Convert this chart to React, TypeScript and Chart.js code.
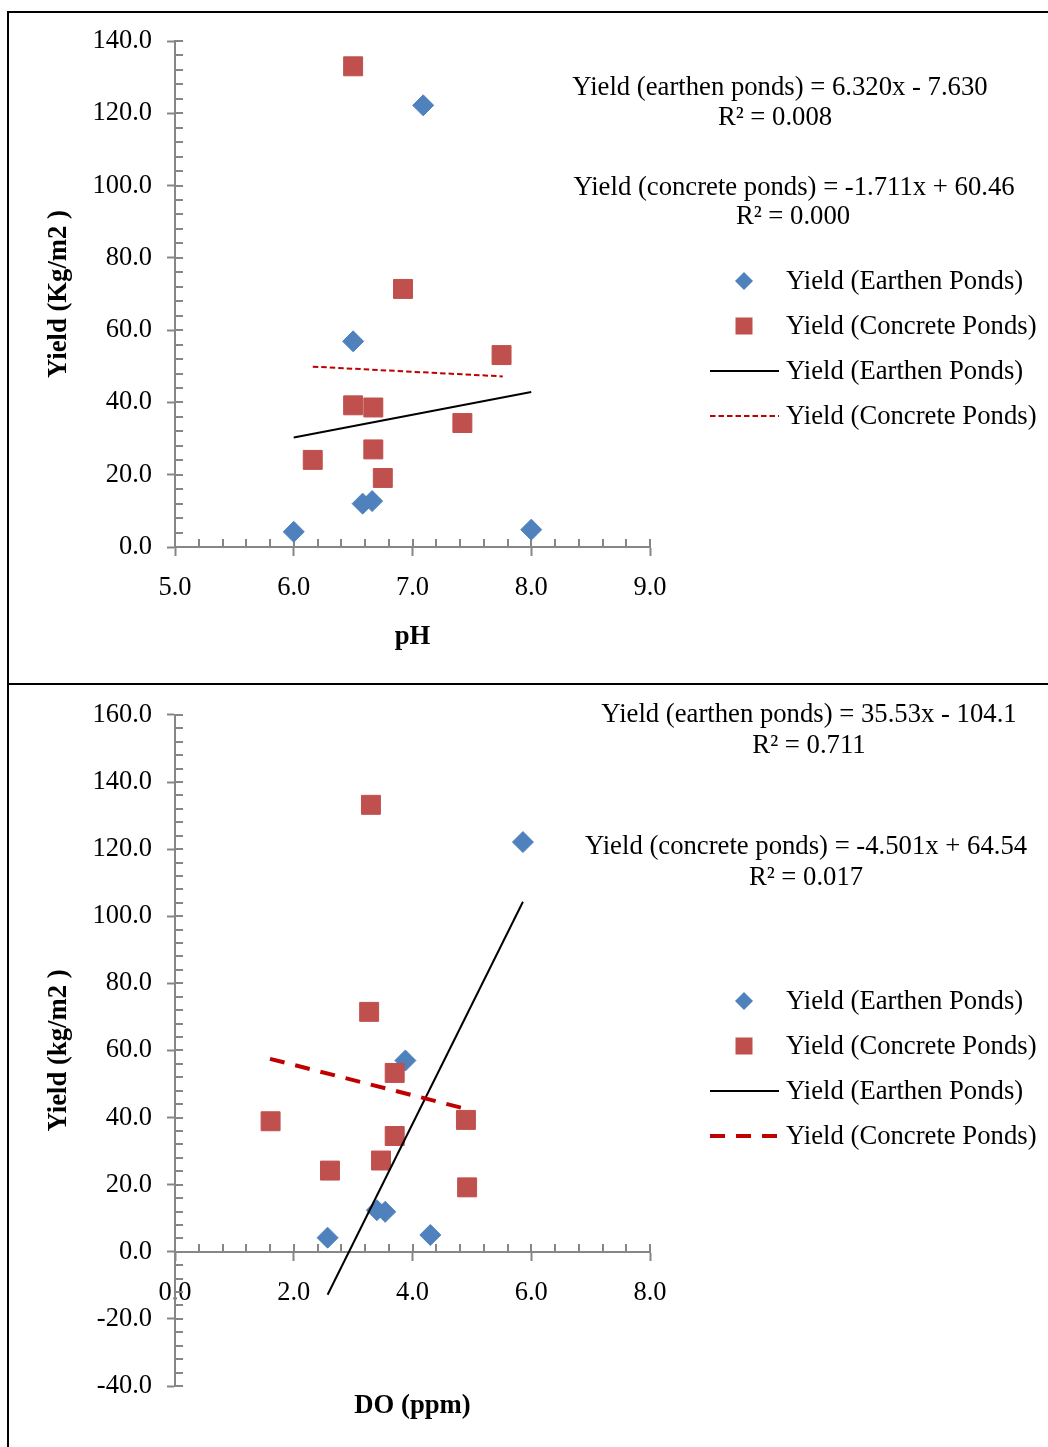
import React, { useEffect, useRef } from 'react';
import { Chart, registerables } from 'chart.js';

Chart.register(...registerables);

const FONT = '"Liberation Serif", "Times New Roman", Times, serif';
const BLUE = '#4F81BD';
const RED = '#C0504D';
const TREND_RED = '#C00000';
const AXIS_GRAY = '#868686';
const TEXT_SIZE = 26.7;
const TICK_SIZE = 26.5;

const seriesLabels = [
  'Yield (Earthen Ponds)',
  'Yield (Concrete Ponds)',
  'Yield (Earthen Ponds)',
  'Yield (Concrete Ponds)',
];

// ---------- Panel 1 : pH ----------
const phEarthenX = [6.0, 6.5, 7.09, 6.58, 6.66, 8.0];
const phEarthenY = [4.2, 56.9, 122.2, 12.0, 12.7, 4.8];
const phConcreteX = [6.5, 6.92, 7.75, 6.5, 6.67, 7.42, 6.67, 6.16, 6.75];
const phConcreteY = [133.0, 71.4, 53.1, 39.2, 38.6, 34.3, 27.0, 24.1, 19.1];
const phTrendEarthenX = [6.0, 8.0];
const phTrendEarthenY = [30.3, 42.9];
const phTrendConcreteX = [6.16, 7.76];
const phTrendConcreteY = [49.9, 47.2];
const phXRange = [5, 9];
const phXSteps = [1, 0.2];
const phYRange = [0, 140];
const phYSteps = [20, 4];
const phXTitle = 'pH';
const phYTitle = 'Yield (Kg/m2 )';
const phEquations = [
  'Yield (earthen ponds) = 6.320x - 7.630',
  'R² = 0.008',
  'Yield (concrete ponds) = -1.711x + 60.46',
  'R² = 0.000',
];

// ---------- Panel 2 : DO ----------
const doEarthenX = [2.57, 3.4, 3.54, 4.3, 3.88, 5.86];
const doEarthenY = [4.2, 12.4, 11.9, 5.0, 57.0, 122.1];
const doConcreteX = [3.3, 3.27, 3.7, 1.61, 4.9, 3.7, 3.47, 2.61, 4.92];
const doConcreteY = [133.2, 71.5, 53.3, 38.9, 39.3, 34.5, 27.2, 24.2, 19.2];
const doTrendEarthenX = [2.57, 5.86];
const doTrendEarthenY = [-12.8, 104.3];
const doTrendConcreteX = [1.6, 4.92];
const doTrendConcreteY = [57.5, 42.5];
const doXRange = [0, 8];
const doXSteps = [2, 0.4];
const doYRange = [-40, 160];
const doYSteps = [20, 4];
const doXTitle = 'DO (ppm)';
const doYTitle = 'Yield (kg/m2 )';
const doEquations = [
  'Yield (earthen ponds) = 35.53x - 104.1',
  'R² = 0.711',
  'Yield (concrete ponds) = -4.501x + 64.54',
  'R² = 0.017',
];

const zip = (xs: number[], ys: number[]) => xs.map((x, i) => ({ x, y: ys[i] }));
const isMajor = (v: number, major: number) => Math.abs(v / major - Math.round(v / major)) < 1e-6;

const innerTicksPlugin = {
  id: 'innerTicks',
  beforeDatasetsDraw(chart: any) {
    const { ctx, chartArea } = chart;
    const xs = chart.scales.x;
    const ys = chart.scales.y;
    const axisY = Math.round(ys.getPixelForValue(0));
    ctx.save();
    ctx.strokeStyle = AXIS_GRAY;
    ctx.lineWidth = 2;
    ctx.beginPath();
    for (const t of ys.ticks) {
      const p = Math.round(ys.getPixelForValue(t.value));
      ctx.moveTo(chartArea.left, p);
      ctx.lineTo(chartArea.left + 8, p);
    }
    for (const t of xs.ticks) {
      const p = Math.round(xs.getPixelForValue(t.value));
      ctx.moveTo(p, axisY);
      ctx.lineTo(p, axisY - 8);
    }
    ctx.stroke();
    ctx.restore();
  },
};

const annotatePlugin = {
  id: 'annotate',
  afterDraw(chart: any, _args: any, opts: any) {
    const { ctx, chartArea: ca } = chart;
    ctx.save();
    ctx.fillStyle = '#000';
    ctx.textBaseline = 'middle';
    ctx.textAlign = 'center';
    ctx.font = `${TEXT_SIZE}px ${FONT}`;
    opts.equations.forEach((e: any) => ctx.fillText(e.text, e.x, e.y));

    ctx.font = `bold ${TEXT_SIZE}px ${FONT}`;
    ctx.fillText(opts.xTitle, (ca.left + ca.right) / 2, opts.xTitleY);
    ctx.save();
    ctx.translate(opts.yTitleX, (ca.top + ca.bottom) / 2);
    ctx.rotate(-Math.PI / 2);
    ctx.fillText(opts.yTitle, 0, 0);
    ctx.restore();

    const L = opts.legend;
    chart.data.datasets.forEach((ds: any, i: number) => {
      const y = L.rows[i];
      const my = y - 1;
      if (ds.showLine) {
        ctx.save();
        ctx.strokeStyle = ds.borderColor;
        ctx.lineWidth = ds.borderWidth;
        ctx.setLineDash(ds.borderDash || []);
        ctx.beginPath();
        ctx.moveTo(L.lineX1, my);
        ctx.lineTo(L.lineX2, my);
        ctx.stroke();
        ctx.restore();
      } else if (ds.pointStyle === 'rectRot') {
        const r = L.diamondR;
        ctx.fillStyle = ds.backgroundColor;
        ctx.beginPath();
        ctx.moveTo(L.markerX, my - r);
        ctx.lineTo(L.markerX + r, my);
        ctx.lineTo(L.markerX, my + r);
        ctx.lineTo(L.markerX - r, my);
        ctx.closePath();
        ctx.fill();
      } else {
        const s = L.squareSide;
        ctx.fillStyle = ds.backgroundColor;
        ctx.fillRect(L.markerX - s / 2, my - s / 2, s, s);
      }
      ctx.fillStyle = '#000';
      ctx.font = `${TEXT_SIZE}px ${FONT}`;
      ctx.textAlign = 'left';
      ctx.fillText(ds.label, L.textX, y);
    });
    ctx.restore();
  },
};

function buildConfig(p: any): any {
  const tickFont = { family: FONT, size: TICK_SIZE };
  return {
    type: 'scatter',
    data: {
      datasets: [
        {
          label: seriesLabels[0],
          data: zip(p.earthenX, p.earthenY),
          pointStyle: 'rectRot',
          pointRadius: 10.5,
          backgroundColor: BLUE,
          borderColor: BLUE,
          borderWidth: 1,
          order: 4,
        },
        {
          label: seriesLabels[1],
          data: zip(p.concreteX, p.concreteY),
          pointStyle: 'rect',
          pointRadius: 13.4,
          backgroundColor: RED,
          borderColor: RED,
          borderWidth: 1,
          order: 3,
        },
        {
          label: seriesLabels[2],
          data: zip(p.trendEX, p.trendEY),
          showLine: true,
          pointRadius: 0,
          borderColor: '#000',
          backgroundColor: '#000',
          borderWidth: 2,
          fill: false,
          order: 2,
        },
        {
          label: seriesLabels[3],
          data: zip(p.trendCX, p.trendCY),
          showLine: true,
          pointRadius: 0,
          borderColor: TREND_RED,
          backgroundColor: TREND_RED,
          borderWidth: p.dashWidth,
          borderDash: p.dash,
          fill: false,
          order: 1,
        },
      ],
    },
    options: {
      responsive: false,
      animation: false,
      events: [],
      layout: { padding: p.padding },
      scales: {
        x: {
          type: 'linear',
          position: { y: 0 },
          min: p.xRange[0],
          max: p.xRange[1],
          afterFit: (s: any) => {
            s.height = 10;
          },
          border: { display: true, color: AXIS_GRAY, width: 2 },
          grid: {
            display: true,
            drawOnChartArea: false,
            drawTicks: true,
            tickLength: 8,
            tickWidth: 2,
            tickColor: (c: any) =>
              c.tick && isMajor(c.tick.value, p.xSteps[0]) ? AXIS_GRAY : 'rgba(0,0,0,0)',
          },
          ticks: {
            stepSize: p.xSteps[1],
            autoSkip: false,
            maxRotation: 0,
            minRotation: 0,
            padding: 17,
            color: '#000',
            font: tickFont,
            callback: (v: number) => (isMajor(v, p.xSteps[0]) ? Number(v).toFixed(1) : ''),
          },
        },
        y: {
          type: 'linear',
          position: 'left',
          min: p.yRange[0],
          max: p.yRange[1],
          afterFit: (s: any) => {
            s.width = 175;
          },
          border: { display: true, color: AXIS_GRAY, width: 2 },
          grid: {
            display: true,
            drawOnChartArea: false,
            drawTicks: true,
            tickLength: 8,
            tickWidth: 2,
            tickColor: (c: any) =>
              c.tick && isMajor(c.tick.value, p.ySteps[0]) ? AXIS_GRAY : 'rgba(0,0,0,0)',
          },
          ticks: {
            stepSize: p.ySteps[1],
            autoSkip: false,
            padding: 15,
            color: '#000',
            font: tickFont,
            callback: (v: number) => (isMajor(v, p.ySteps[0]) ? Number(v).toFixed(1) : ''),
          },
        },
      },
      plugins: {
        legend: { display: false },
        tooltip: { enabled: false },
        annotate: {
          equations: p.equations,
          xTitle: p.xTitle,
          yTitle: p.yTitle,
          xTitleY: p.xTitleY,
          yTitleX: 59,
          legend: p.legend,
        },
      },
    },
    plugins: [innerTicksPlugin, annotatePlugin],
  };
}

const panelPH = {
  earthenX: phEarthenX,
  earthenY: phEarthenY,
  concreteX: phConcreteX,
  concreteY: phConcreteY,
  trendEX: phTrendEarthenX,
  trendEY: phTrendEarthenY,
  trendCX: phTrendConcreteX,
  trendCY: phTrendConcreteY,
  xRange: phXRange,
  xSteps: phXSteps,
  yRange: phYRange,
  ySteps: phYSteps,
  xTitle: phXTitle,
  yTitle: phYTitle,
  dash: [5.5, 3],
  dashWidth: 2,
  padding: { left: 0, top: 41, right: 398, bottom: 137 },
  xTitleY: 637,
  equations: [
    { text: phEquations[0], x: 780, y: 88 },
    { text: phEquations[1], x: 775, y: 118 },
    { text: phEquations[2], x: 794, y: 188 },
    { text: phEquations[3], x: 793, y: 217 },
  ],
  legend: {
    rows: [282, 327, 372, 417],
    markerX: 744,
    lineX1: 710,
    lineX2: 779,
    textX: 786,
    diamondR: 9,
    squareSide: 17,
  },
};

const panelDO = {
  earthenX: doEarthenX,
  earthenY: doEarthenY,
  concreteX: doConcreteX,
  concreteY: doConcreteY,
  trendEX: doTrendEarthenX,
  trendEY: doTrendEarthenY,
  trendCX: doTrendConcreteX,
  trendCY: doTrendConcreteY,
  xRange: doXRange,
  xSteps: doXSteps,
  yRange: doYRange,
  ySteps: doYSteps,
  xTitle: doXTitle,
  yTitle: doYTitle,
  dash: [15, 11],
  dashWidth: 4,
  padding: { left: 0, top: 29, right: 398, bottom: 61 },
  xTitleY: 722,
  equations: [
    { text: doEquations[0], x: 809, y: 31 },
    { text: doEquations[1], x: 809, y: 62 },
    { text: doEquations[2], x: 806, y: 163 },
    { text: doEquations[3], x: 806, y: 194 },
  ],
  legend: {
    rows: [318, 363, 408, 453],
    markerX: 744,
    lineX1: 710,
    lineX2: 779,
    textX: 786,
    diamondR: 9,
    squareSide: 17,
  },
};

function ChartPanel({ panel, top, height }: { panel: any; top: number; height: number }) {
  const ref = useRef<HTMLCanvasElement | null>(null);
  useEffect(() => {
    if (!ref.current) return;
    const chart = new Chart(ref.current, buildConfig(panel));
    return () => chart.destroy();
  }, [panel]);
  return (
    <div style={{ position: 'absolute', left: 0, top, width: 1048, height }}>
      <canvas ref={ref} width={1048} height={height} style={{ display: 'block', width: 1048, height }} />
    </div>
  );
}

export default function App() {
  return (
    <div
      style={{
        position: 'absolute',
        left: 0,
        top: 0,
        width: 1048,
        height: 1447,
        background: '#fff',
        overflow: 'hidden',
      }}
    >
      <ChartPanel panel={panelPH} top={0} height={684} />
      <ChartPanel panel={panelDO} top={684} height={763} />
      <div style={{ position: 'absolute', left: 7, top: 11, width: 1041, height: 2, background: '#000' }} />
      <div style={{ position: 'absolute', left: 7, top: 683, width: 1041, height: 2, background: '#000' }} />
      <div style={{ position: 'absolute', left: 7, top: 11, width: 2, height: 1436, background: '#000' }} />
    </div>
  );
}
